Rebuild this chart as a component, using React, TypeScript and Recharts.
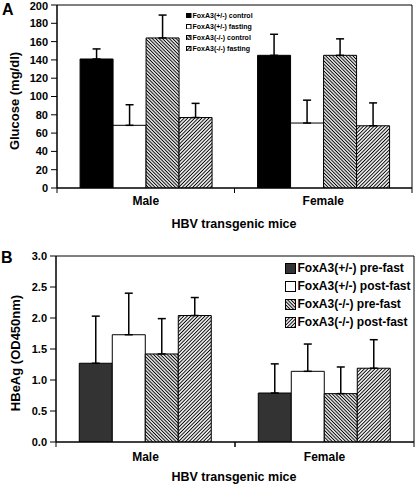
import React from 'react';
import { BarChart, Bar, XAxis, YAxis, ErrorBar, ReferenceArea } from 'recharts';

const FONT = '"Liberation Sans", Arial, Helvetica, sans-serif';

const categories = ['Male', 'Female'];

// Panel A: Glucose (mg/dl)
const aLabels = ['FoxA3(+/-) control', 'FoxA3(+/-) fasting', 'FoxA3(-/-) control', 'FoxA3(-/-) fasting'];
const aHetControl = [141, 145];
const aHetControlErr = [11, 23];
const aHetFasting = [68.5, 71];
const aHetFastingErr = [22.5, 25];
const aKoControl = [164, 145];
const aKoControlErr = [25, 18];
const aKoFasting = [77, 68];
const aKoFastingErr = [15.5, 25];
const aTicks = [0, 20, 40, 60, 80, 100, 120, 140, 160, 180, 200];

// Panel B: HBeAg (OD450nm)
const bLabels = ['FoxA3(+/-) pre-fast', 'FoxA3(+/-) post-fast', 'FoxA3(-/-) pre-fast', 'FoxA3(-/-) post-fast'];
const bHetPre = [1.27, 0.79];
const bHetPreErr = [0.76, 0.47];
const bHetPost = [1.73, 1.14];
const bHetPostErr = [0.67, 0.44];
const bKoPre = [1.42, 0.78];
const bKoPreErr = [0.57, 0.43];
const bKoPost = [2.04, 1.19];
const bKoPostErr = [0.29, 0.46];
const bTicks = [0, 0.5, 1, 1.5, 2, 2.5, 3];

const dataA = categories.map((c, i) => ({
  cat: c,
  v0: aHetControl[i], e0: [0, aHetControlErr[i]],
  v1: aHetFasting[i], e1: [0, aHetFastingErr[i]],
  v2: aKoControl[i], e2: [0, aKoControlErr[i]],
  v3: aKoFasting[i], e3: [0, aKoFastingErr[i]],
}));

const dataB = categories.map((c, i) => ({
  cat: c,
  v0: bHetPre[i], e0: [0, bHetPreErr[i]],
  v1: bHetPost[i], e1: [0, bHetPostErr[i]],
  v2: bKoPre[i], e2: [0, bKoPreErr[i]],
  v3: bKoPost[i], e3: [0, bKoPostErr[i]],
}));

const Patterns = ({ p }: { p: string }) => (
  <defs>
    <pattern id={p + 'back'} patternUnits="userSpaceOnUse" width="2.4" height="2.4" patternTransform="rotate(-45)">
      <rect width="2.4" height="2.4" fill="#fff" />
      <line x1="1.2" y1="-1" x2="1.2" y2="4" stroke="#000" strokeWidth="1.05" />
    </pattern>
    <pattern id={p + 'fwd'} patternUnits="userSpaceOnUse" width="2.5" height="2.5" patternTransform="rotate(45)">
      <rect width="2.5" height="2.5" fill="#fff" />
      <line x1="1.25" y1="-1" x2="1.25" y2="4" stroke="#000" strokeWidth="1" />
    </pattern>
  </defs>
);

const fillsFor = (p: string, solid: string) => [solid, '#ffffff', `url(#${p}back)`, `url(#${p}fwd)`];

const LegendBox = ({ labels, p, solid, size, fontSize, rowH, left, top }: any) => (
  <div style={{ position: 'absolute', left, top, fontFamily: FONT, fontWeight: 'bold', fontSize, color: '#000' }}>
    {labels.map((l: string, i: number) => (
      <div key={l} style={{ display: 'flex', alignItems: 'center', height: rowH, whiteSpace: 'nowrap' }}>
        <svg width={size + 1} height={size + 1} style={{ marginRight: Math.max(1, size * 0.15), flex: 'none' }}>
          <Patterns p={p + 'lg'} />
          <rect x={0.5} y={0.5} width={size} height={size} fill={fillsFor(p + 'lg', solid)[i]} stroke="#000" strokeWidth={1} />
        </svg>
        <span>{l}</span>
      </div>
    ))}
  </div>
);

const tickStyle = (fs: number) => ({ fill: '#000', fontSize: fs, fontWeight: 'bold', fontFamily: FONT });

// Category tick: label at the band centre plus small tick marks at the band edges
const makeCatTick = (gap: number, fallbackHalf: number) => (props: any) => {
  const { x, y, payload } = props;
  const half = payload && typeof payload.offset === 'number' && payload.offset > 0 ? payload.offset : fallbackHalf;
  const axisY = y - gap;
  return (
    <g>
      <line x1={x - half} y1={axisY} x2={x - half} y2={axisY + 5} stroke="#000" strokeWidth={1} />
      <line x1={x + half} y1={axisY} x2={x + half} y2={axisY + 5} stroke="#000" strokeWidth={1} />
      <text x={x} y={y} dy="0.71em" textAnchor="middle" fill="#000" fontSize={12} fontWeight="bold" fontFamily={FONT}>
        {payload.value}
      </text>
    </g>
  );
};

const Panel = ({ data, p, solid, width, height, margin, yWidth, yDomain, yTicks, yFmt, catHeight, catGap }: any) => {
  const fills = fillsFor(p, solid);
  const plotW = width - yWidth - margin.left - margin.right;
  return (
    <BarChart width={width} height={height} data={data} margin={margin} barCategoryGap="13%" barGap={0}>
      <Patterns p={p} />
      <XAxis dataKey="cat" tickLine={false} tickSize={catGap} tickMargin={0}
        height={catHeight} axisLine={{ stroke: '#000' }} tick={makeCatTick(catGap, plotW / data.length / 2)} />
      <YAxis width={yWidth} domain={yDomain} ticks={yTicks} tickFormatter={yFmt} tickSize={6} tickMargin={3}
        axisLine={{ stroke: '#000' }} tickLine={{ stroke: '#000' }} tick={tickStyle(11)} allowDataOverflow />
      {[0, 1, 2, 3].map((k) => (
        <Bar key={k} dataKey={'v' + k} fill={fills[k]} stroke="#000" strokeWidth={1} isAnimationActive={false}>
          <ErrorBar dataKey={'e' + k} width={4} stroke="#000" strokeWidth={1.5} direction="y" />
        </Bar>
      ))}
      <ReferenceArea y1={yDomain[0]} y2={yDomain[1]} fill="none" stroke="#000" strokeWidth={1} ifOverflow="visible" />
    </BarChart>
  );
};

const textStyle = (fs: number): React.CSSProperties => ({
  position: 'absolute', fontFamily: FONT, fontWeight: 'bold', fontSize: fs, lineHeight: 1, color: '#000', whiteSpace: 'nowrap',
});

export default function App() {
  return (
    <div style={{ position: 'absolute', left: 0, top: 0, width: 416, height: 485, background: '#fff', overflow: 'hidden' }}>
      {/* Panel A */}
      <div style={{ position: 'absolute', left: 0, top: 0 }}>
        <Panel data={dataA} p="pa" solid="#000" width={416} height={240}
          margin={{ top: 5, right: 4, left: 0, bottom: 0 }} yWidth={57}
          yDomain={[0, 200]} yTicks={aTicks} yFmt={(v: number) => String(v)} catHeight={52} catGap={8} />
      </div>
      <div style={{ ...textStyle(16), left: 2, top: 2 }}>A</div>
      <div style={{ ...textStyle(13), left: 14, top: 101, transform: 'translate(-50%, -50%) rotate(-90deg)' }}>Glucose (mg/dl)</div>
      <div style={{ ...textStyle(12.5), left: 234, top: 218, transform: 'translateX(-50%)' }}>HBV transgenic mice</div>
      <LegendBox labels={aLabels} p="pa" solid="#000" size={4.5} fontSize={7} rowH={11} left={186} top={10} />

      {/* Panel B */}
      <div style={{ position: 'absolute', left: 0, top: 240 }}>
        <Panel data={dataB} p="pb" solid="#333" width={416} height={245}
          margin={{ top: 16, right: 2, left: 0, bottom: 0 }} yWidth={56}
          yDomain={[0, 3]} yTicks={bTicks} yFmt={(v: number) => v.toFixed(1)} catHeight={43} catGap={10} />
      </div>
      <div style={{ ...textStyle(16), left: 1, top: 250 }}>B</div>
      <div style={{ ...textStyle(13), left: 15, top: 353, transform: 'translate(-50%, -50%) rotate(-90deg)' }}>HBeAg (OD450nm)</div>
      <div style={{ ...textStyle(12.5), left: 234, top: 471, transform: 'translateX(-50%)' }}>HBV transgenic mice</div>
      <LegendBox labels={bLabels} p="pb" solid="#333" size={10} fontSize={12} rowH={18} left={285} top={259} />
    </div>
  );
}
